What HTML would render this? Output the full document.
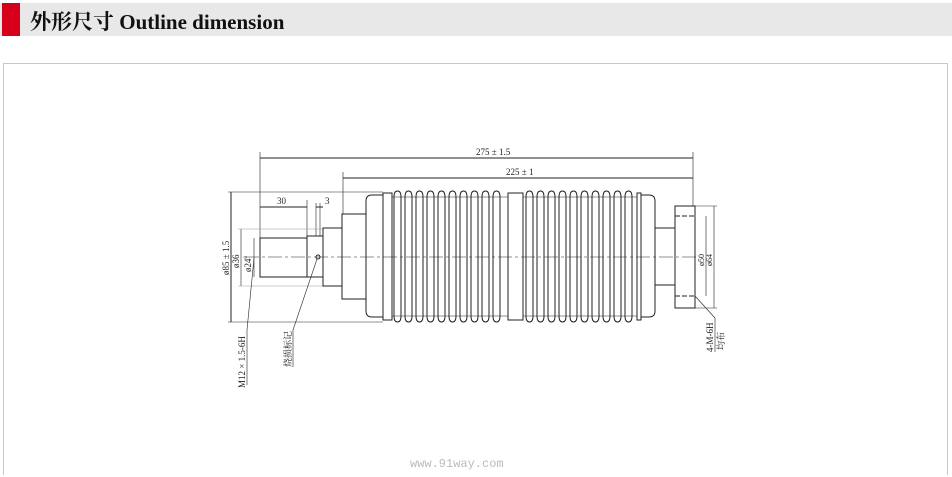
<!DOCTYPE html>
<html><head><meta charset="utf-8"><style>
html,body{margin:0;padding:0;background:#fff;width:952px;height:477px;overflow:hidden}
.hdr{position:absolute;left:0;top:3px;width:952px;height:33px;background:#e8e8e8}
.red{position:absolute;left:2px;top:3px;width:18px;height:33px;background:#d7001a}
.title{position:absolute;left:30px;top:6px;font:bold 21px "Liberation Serif","Noto Serif CJK SC",serif;color:#111}
.box{position:absolute;left:3px;top:63px;width:943px;height:411px;border:1px solid #c8c8c8;border-bottom:none}
svg{position:absolute;left:0;top:0}
</style></head><body>
<div class="hdr"></div><div class="red"></div>
<div class="title">外形尺寸 Outline dimension</div>
<div class="box"></div>
<svg width="952" height="477" font-family="Liberation Serif, Noto Serif CJK SC, serif" font-size="9" fill="none" stroke="#222" stroke-width="1">
<line x1="245" y1="257" x2="700" y2="257" stroke-dasharray="14,3,3,3" stroke-width="0.6"/>
<line x1="260" y1="158" x2="693" y2="158"/>
<line x1="343" y1="178" x2="693" y2="178"/>
<line x1="260" y1="152" x2="260" y2="240" stroke-width="0.6"/>
<line x1="343" y1="172" x2="343" y2="214" stroke-width="0.6"/>
<line x1="693" y1="152" x2="693" y2="206" stroke-width="0.6"/>
<text x="476" y="155" fill="#222" stroke="none">275 ± 1.5</text>
<text x="506" y="175" fill="#222" stroke="none">225 ± 1</text>
<line x1="260" y1="207" x2="307" y2="207"/>
<line x1="307" y1="200" x2="307" y2="236" stroke-width="0.6"/>
<text x="277" y="204" fill="#222" stroke="none">30</text>
<line x1="316" y1="207" x2="323" y2="207"/>
<line x1="316" y1="203" x2="316" y2="236" stroke-width="0.6"/>
<line x1="320" y1="203" x2="320" y2="236" stroke-width="0.6"/>
<text x="325" y="204" fill="#222" stroke="none">3</text>
<line x1="231" y1="192" x2="231" y2="322"/>
<line x1="228" y1="192" x2="383" y2="192" stroke-width="0.6"/>
<line x1="228" y1="322" x2="383" y2="322" stroke-width="0.6"/>
<line x1="241" y1="229" x2="241" y2="286" stroke-width="0.6"/>
<line x1="238" y1="229" x2="323" y2="229" stroke-width="0.6" stroke="#999"/>
<line x1="238" y1="286" x2="323" y2="286" stroke-width="0.6" stroke="#999"/>
<line x1="254" y1="238" x2="254" y2="277" stroke-width="0.6"/>
<text transform="translate(229,275) rotate(-90)" fill="#222" stroke="none">ø85 ± 1.5</text>
<text transform="translate(239,268) rotate(-90)" fill="#222" stroke="none">ø36</text>
<text transform="translate(251,272) rotate(-90)" fill="#222" stroke="none">ø24<tspan font-size="5" dy="-4">0</tspan></text>
<rect x="260" y="238" width="47" height="39"/>
<rect x="307" y="236" width="16" height="41"/>
<rect x="323" y="228" width="19" height="58"/>
<rect x="342" y="214" width="24" height="85"/>
<path d="M383 195 H372 Q366 195 366 201 V311 Q366 317 372 317 H383"/>
<circle cx="318" cy="257" r="2"/>
<line x1="254" y1="258" x2="247" y2="330" stroke-width="0.6"/>
<line x1="247" y1="330" x2="247" y2="385" stroke-width="0.6"/>
<text transform="translate(245,388) rotate(-90)" fill="#222" stroke="none">M12 × 1.5-6H</text>
<line x1="317" y1="259" x2="293" y2="330" stroke-width="0.6"/>
<line x1="293" y1="330" x2="293" y2="367" stroke-width="0.6"/>
<text transform="translate(291,367) rotate(-90)" fill="#222" stroke="none">烧损标记</text>
<rect x="383" y="193" width="9" height="127"/>
<rect x="508" y="193" width="15" height="127"/>
<rect x="637" y="193" width="4" height="127"/>
<path d="M641 195 H649 Q655 195 655 201 V311 Q655 317 649 317 H641"/>
<path d="M392 197 H508 M392 316 H508 M523 197 H637 M523 316 H637" stroke-width="0.6"/>
<rect x="655" y="228" width="20" height="57"/>
<rect x="675" y="206" width="20" height="102"/>
<line x1="675" y1="216" x2="695" y2="216" stroke-dasharray="5,2"/>
<line x1="675" y1="296" x2="695" y2="296" stroke-dasharray="5,2"/>
<line x1="695" y1="206" x2="717" y2="206" stroke-width="0.6"/>
<line x1="695" y1="308" x2="717" y2="308" stroke-width="0.6"/>
<line x1="714" y1="206" x2="714" y2="308" stroke-width="0.6"/>
<line x1="706" y1="216" x2="706" y2="296" stroke-width="0.6"/>
<text transform="translate(704,266) rotate(-90)" fill="#222" stroke="none" font-size="8">ø50</text>
<text transform="translate(712,266) rotate(-90)" fill="#222" stroke="none" font-size="8">ø64</text>
<line x1="695" y1="296" x2="715" y2="318" stroke-width="0.6"/>
<line x1="715" y1="318" x2="715" y2="352" stroke-width="0.6"/>
<text transform="translate(713,352) rotate(-90)" fill="#222" stroke="none">4-M-6H</text>
<text transform="translate(724,350) rotate(-90)" fill="#222" stroke="none">均布</text>
<text x="410" y="467" fill="#bbb" stroke="none" font-family="Liberation Mono, monospace" font-size="12">www.91way.com</text>
</svg>
<svg width="952" height="477" fill="none" stroke="#222" stroke-width="1">
<path d="M394 197 Q394 191 397.5 191 Q401 191 401 197 V316 Q401 322 397.5 322 Q394 322 394 316 Z M405 197 Q405 191 408.5 191 Q412 191 412 197 V316 Q412 322 408.5 322 Q405 322 405 316 Z M416 197 Q416 191 419.5 191 Q423 191 423 197 V316 Q423 322 419.5 322 Q416 322 416 316 Z M427 197 Q427 191 430.5 191 Q434 191 434 197 V316 Q434 322 430.5 322 Q427 322 427 316 Z M438 197 Q438 191 441.5 191 Q445 191 445 197 V316 Q445 322 441.5 322 Q438 322 438 316 Z M449 197 Q449 191 452.5 191 Q456 191 456 197 V316 Q456 322 452.5 322 Q449 322 449 316 Z M460 197 Q460 191 463.5 191 Q467 191 467 197 V316 Q467 322 463.5 322 Q460 322 460 316 Z M471 197 Q471 191 474.5 191 Q478 191 478 197 V316 Q478 322 474.5 322 Q471 322 471 316 Z M482 197 Q482 191 485.5 191 Q489 191 489 197 V316 Q489 322 485.5 322 Q482 322 482 316 Z M493 197 Q493 191 496.5 191 Q500 191 500 197 V316 Q500 322 496.5 322 Q493 322 493 316 Z
M526 197 Q526 191 529.5 191 Q533 191 533 197 V316 Q533 322 529.5 322 Q526 322 526 316 Z M537 197 Q537 191 540.5 191 Q544 191 544 197 V316 Q544 322 540.5 322 Q537 322 537 316 Z M548 197 Q548 191 551.5 191 Q555 191 555 197 V316 Q555 322 551.5 322 Q548 322 548 316 Z M559 197 Q559 191 562.5 191 Q566 191 566 197 V316 Q566 322 562.5 322 Q559 322 559 316 Z M570 197 Q570 191 573.5 191 Q577 191 577 197 V316 Q577 322 573.5 322 Q570 322 570 316 Z M581 197 Q581 191 584.5 191 Q588 191 588 197 V316 Q588 322 584.5 322 Q581 322 581 316 Z M592 197 Q592 191 595.5 191 Q599 191 599 197 V316 Q599 322 595.5 322 Q592 322 592 316 Z M603 197 Q603 191 606.5 191 Q610 191 610 197 V316 Q610 322 606.5 322 Q603 322 603 316 Z M614 197 Q614 191 617.5 191 Q621 191 621 197 V316 Q621 322 617.5 322 Q614 322 614 316 Z M625 197 Q625 191 628.5 191 Q632 191 632 197 V316 Q632 322 628.5 322 Q625 322 625 316 Z"/>
</svg>
</body></html>
